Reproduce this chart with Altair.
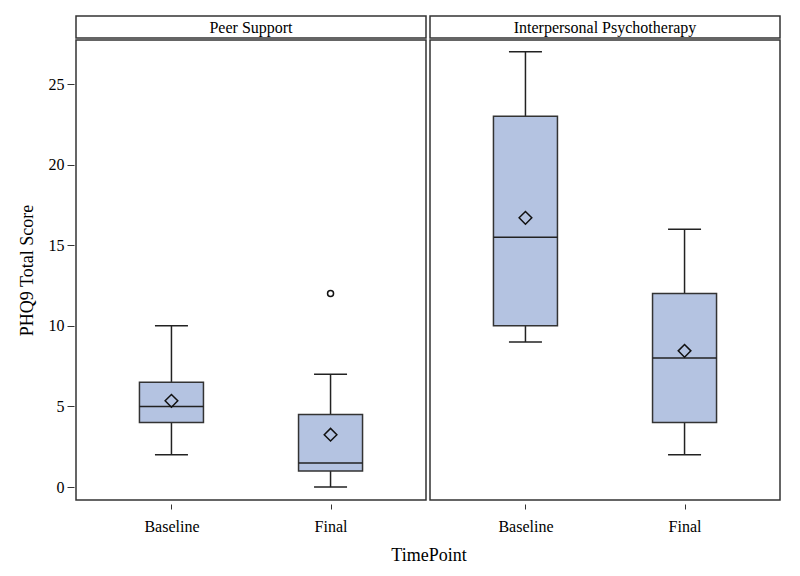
import altair as alt
import pandas as pd

# ---- data ----
panel_order = ["Peer Support", "Interpersonal Psychotherapy"]
time_order = ["Baseline", "Final"]
groups = ["Peer Support", "Peer Support", "Interpersonal Psychotherapy", "Interpersonal Psychotherapy"]
timepoints = ["Baseline", "Final", "Baseline", "Final"]
whisker_low = [2, 0, 9, 2]
q1 = [4, 1, 10, 4]
median = [5, 1.5, 15.5, 8]
q3 = [6.5, 4.5, 23, 12]
whisker_high = [10, 7, 27, 16]
mean = [5.35, 3.25, 16.7, 8.45]
outlier_groups = ["Peer Support"]
outlier_timepoints = ["Final"]
outlier_values = [12]
y_ticks = [0, 5, 10, 15, 20, 25]

FONT = "Liberation Serif"
W = 350
H = 460
HEADER_H = 22

stats = pd.DataFrame({
    "group": groups, "time": timepoints, "lo": whisker_low, "q1": q1,
    "median": median, "q3": q3, "hi": whisker_high, "mean": mean,
})
outliers = pd.DataFrame({"group": outlier_groups, "time": outlier_timepoints, "value": outlier_values})

yscale = alt.Scale(domain=[-0.8, 27.73], nice=False, zero=False)
xscale = alt.Scale(type="point", padding=0.6, domain=time_order)


def panel(g, first):
    d = stats[stats["group"] == g]
    o = outliers[outliers["group"] == g]
    xenc = alt.X("time:N", scale=xscale, sort=time_order,
                 axis=alt.Axis(title=None, labelAngle=0, tickSize=5, offset=4,
                               labelPadding=9, labelFontSize=16, domain=False,
                               tickColor="#333", labelColor="black", labelFont=FONT))
    if first:
        yaxis = alt.Axis(values=y_ticks, tickSize=7, offset=2, labelFontSize=16,
                         titleFontSize=18, titleFontWeight="normal", titlePadding=12,
                         grid=False, domain=False, labelPadding=3, tickColor="#333",
                         labelColor="black", titleColor="black", labelFont=FONT,
                         titleFont=FONT, title="PHQ9 Total Score")
    else:
        yaxis = None
    base = alt.Chart(d)
    whisk = base.mark_rule(color="#222", strokeWidth=1.5).encode(
        x=xenc, y=alt.Y("lo:Q", scale=yscale, axis=yaxis), y2="hi:Q")
    cap_lo = base.mark_tick(size=33, thickness=1.5, color="#222", opacity=1).encode(
        x=xenc, y=alt.Y("lo:Q", scale=yscale))
    cap_hi = base.mark_tick(size=33, thickness=1.5, color="#222", opacity=1).encode(
        x=xenc, y=alt.Y("hi:Q", scale=yscale))
    box = base.mark_bar(size=64, fill="#B4C3E1", stroke="#333", strokeWidth=1.5).encode(
        x=xenc, y=alt.Y("q1:Q", scale=yscale), y2="q3:Q")
    med = base.mark_tick(size=64, thickness=1.5, color="#222", opacity=1).encode(
        x=xenc, y=alt.Y("median:Q", scale=yscale))
    mn = base.mark_point(shape="diamond", filled=False, size=160, color="#111",
                         strokeWidth=1.5, opacity=1).encode(x=xenc, y=alt.Y("mean:Q", scale=yscale))
    layers = [whisk, cap_lo, cap_hi, box, med, mn]
    if len(o) > 0:
        out = alt.Chart(o).mark_point(shape="circle", filled=False, size=36, color="#111",
                                      strokeWidth=1.5, opacity=1).encode(
            x=xenc, y=alt.Y("value:Q", scale=yscale))
        layers.append(out)
    plot = alt.layer(*layers).properties(width=W, height=H)
    header = alt.Chart(pd.DataFrame({"group": [g]})).mark_text(
        font=FONT, fontSize=16, color="black", baseline="middle", align="center"
    ).encode(text="group:N", x=alt.value(W / 2), y=alt.value(HEADER_H / 2 + 1)).properties(
        width=W, height=HEADER_H)
    return alt.vconcat(header, plot, spacing=0)


chart = alt.hconcat(panel(panel_order[0], True), panel(panel_order[1], False), spacing=2).properties(
    title=alt.TitleParams("TimePoint", orient="bottom", anchor="middle", dx=30,
                          fontSize=18, font=FONT, fontWeight="normal", color="black", offset=12),
    padding={"left": 9, "top": 7, "right": 5, "bottom": 5},
    background="white",
).configure(font=FONT).configure_view(stroke="#333", strokeWidth=1.5).configure_title(
    font=FONT, fontWeight="normal", anchor="middle")

chart.save("out.html", embed_options={"renderer": "svg", "actions": False})
